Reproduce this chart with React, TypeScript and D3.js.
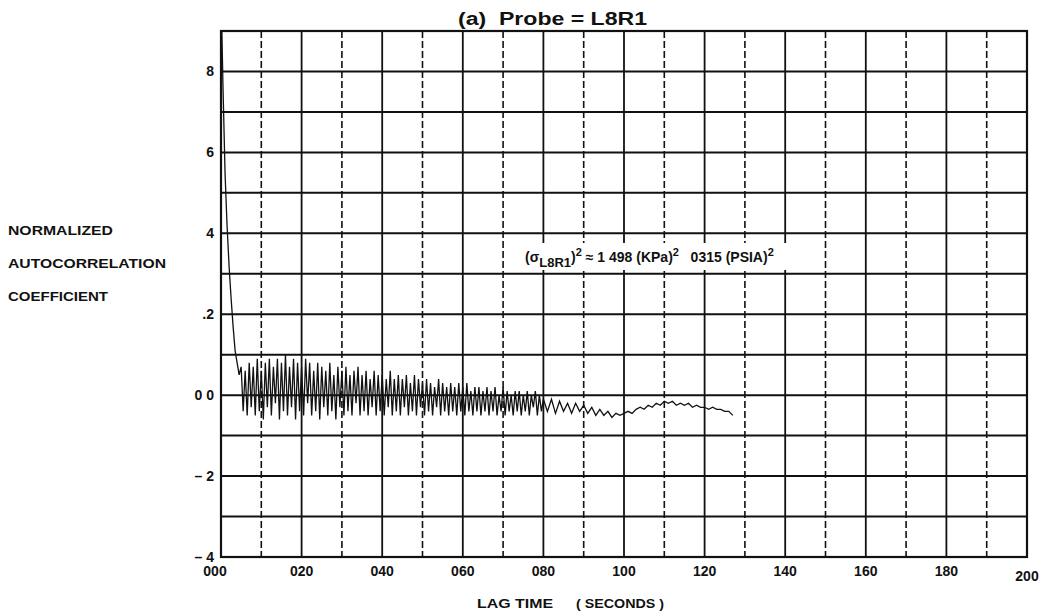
import React, { useEffect, useRef } from "react";
import * as d3 from "d3";

const W = 1044;
const H = 616;

// axis ticks as printed on the original plot
const xTickValues = [0, 20, 40, 60, 80, 100, 120, 140, 160, 180, 200];
const xTickLabels = ["000", "020", "040", "060", "080", "100", "120", "140", "160", "180", "200"];
const yTickValues = [0.8, 0.6, 0.4, 0.2, 0, -0.2, -0.4];
const yTickLabels = ["8", "6", "4", ".2", "0 0", "– 2", "– 4"];

// autocorrelation, lag 0 – 80 s sampled every 0.5 s
const stepA = 0.5;
const acfA = [
  1.0, 0.76, 0.55, 0.42, 0.32, 0.24, 0.17, 0.11, 0.08, 0.05,
  0.07, -0.04, 0.06, -0.05, 0.08, -0.03, 0.07, -0.05, 0.09, -0.04,
  0.06, -0.06, 0.08, -0.03, 0.09, -0.05, 0.07, -0.02, 0.09, -0.06,
  0.08, -0.04, 0.1, -0.05, 0.07, -0.03, 0.09, -0.06, 0.08, -0.04,
  0.07, -0.05, 0.09, -0.02, 0.08, -0.05, 0.06, -0.04, 0.08, -0.06,
  0.07, -0.03, 0.06, -0.05, 0.08, -0.04, 0.05, -0.06, 0.07, -0.03,
  0.06, -0.05, 0.07, -0.04, 0.05, -0.05, 0.06, -0.02, 0.07, -0.05,
  0.05, -0.04, 0.06, -0.05, 0.04, -0.03, 0.06, -0.05, 0.05, -0.04,
  0.05, -0.05, 0.04, -0.03, 0.06, -0.05, 0.04, -0.04, 0.05, -0.05,
  0.04, -0.03, 0.05, -0.05, 0.03, -0.04, 0.05, -0.05, 0.04, -0.03,
  0.03, -0.05, 0.04, -0.04, 0.03, -0.05, 0.02, -0.03, 0.04, -0.05,
  0.03, -0.04, 0.02, -0.05, 0.03, -0.04, 0.02, -0.05, 0.03, -0.04,
  0.02, -0.05, 0.03, -0.04, 0.01, -0.05, 0.02, -0.04, 0.02, -0.05,
  0.01, -0.04, 0.02, -0.05, 0.01, -0.04, 0.02, -0.05, 0.0, -0.04,
  0.02, -0.05, 0.01, -0.04, 0.0, -0.05, 0.01, -0.04, 0.01, -0.05,
  0.0, -0.04, 0.01, -0.05, 0.0, -0.03, 0.01, -0.05, 0.0, -0.04, -0.01,
];

// autocorrelation, lag 81 – 127 s sampled every 1 s
const startB = 81;
const acfB = [
  -0.04, -0.01, -0.045, -0.015, -0.04, -0.02, -0.045, -0.02, -0.04, -0.025,
  -0.045, -0.03, -0.05, -0.035, -0.05, -0.04, -0.055, -0.045, -0.05, -0.045,
  -0.04, -0.045, -0.035, -0.03, -0.035, -0.025, -0.03, -0.02, -0.025, -0.015,
  -0.02, -0.015, -0.025, -0.02, -0.025, -0.02, -0.03, -0.025, -0.03, -0.03,
  -0.035, -0.03, -0.035, -0.035, -0.04, -0.04, -0.05,
];

const yTitle = ["NORMALIZED", "AUTOCORRELATION", "COEFFICIENT"];
const yTitleWidths = [105, 158, 100];

const FONT = "'Liberation Sans', Arial, Helvetica, sans-serif";

const App: React.FC = () => {
  const svgRef = useRef<SVGSVGElement>(null);

  useEffect(() => {
    if (!svgRef.current) return;
    const svg = d3.select(svgRef.current);
    svg.selectAll("*").remove();

    const margin = { top: 31, right: 17, bottom: 59, left: 221 };
    const x = d3.scaleLinear().domain([0, 200]).range([margin.left, W - margin.right]);
    const y = d3.scaleLinear().domain([-0.4, 0.9]).range([H - margin.bottom, margin.top]);

    svg.append("rect").attr("width", W).attr("height", H).attr("fill", "#ffffff");

    // grid
    const grid = svg.append("g");
    grid
      .selectAll("line.h")
      .data(d3.range(-3, 9).map((k) => k / 10))
      .enter()
      .append("line")
      .attr("x1", x(0))
      .attr("x2", x(200))
      .attr("y1", (d) => y(d))
      .attr("y2", (d) => y(d))
      .attr("stroke", "#111")
      .attr("stroke-width", 2);

    grid
      .selectAll("line.v")
      .data(d3.range(1, 20))
      .enter()
      .append("line")
      .attr("x1", (k) => x(k * 10))
      .attr("x2", (k) => x(k * 10))
      .attr("y1", y(0.9))
      .attr("y2", y(-0.4))
      .attr("stroke", "#111")
      .attr("stroke-width", (k) => (k % 2 ? 1.6 : 1.8))
      .attr("stroke-dasharray", (k) => (k % 2 ? "7,3" : null));

    // frame
    svg
      .append("rect")
      .attr("x", x(0))
      .attr("y", y(0.9))
      .attr("width", x(200) - x(0))
      .attr("height", y(-0.4) - y(0.9))
      .attr("fill", "none")
      .attr("stroke", "#111")
      .attr("stroke-width", 2.2);

    // curve
    svg
      .append("clipPath")
      .attr("id", "plot-clip")
      .append("rect")
      .attr("x", x(0))
      .attr("y", y(0.9))
      .attr("width", x(200) - x(0))
      .attr("height", y(-0.4) - y(0.9));

    const points: [number, number][] = [
      ...acfA.map((v, i) => [i * stepA, v] as [number, number]),
      ...acfB.map((v, i) => [startB + i, v] as [number, number]),
    ];
    const line = d3
      .line<[number, number]>()
      .x((d) => x(d[0]))
      .y((d) => y(d[1]));
    svg
      .append("path")
      .attr("clip-path", "url(#plot-clip)")
      .attr("d", line(points))
      .attr("fill", "none")
      .attr("stroke", "#111")
      .attr("stroke-width", 1.3);

    // x tick labels
    svg
      .append("g")
      .selectAll("text")
      .data(xTickValues)
      .enter()
      .append("text")
      .attr("x", (d) => x(d) - (d === 0 ? 6 : 0))
      .attr("y", (d) => (d === 200 ? 581 : 576))
      .attr("text-anchor", "middle")
      .attr("font-family", FONT)
      .attr("font-weight", "bold")
      .attr("font-size", 14)
      .attr("fill", "#111")
      .text((d, i) => xTickLabels[i]);

    // y tick labels
    svg
      .append("g")
      .selectAll("text")
      .data(yTickValues)
      .enter()
      .append("text")
      .attr("x", 214)
      .attr("y", (d) => y(d))
      .attr("dy", "0.35em")
      .attr("text-anchor", "end")
      .attr("font-family", FONT)
      .attr("font-weight", "bold")
      .attr("font-size", 14)
      .attr("fill", "#111")
      .text((d, i) => yTickLabels[i]);

    // title
    svg
      .append("text")
      .attr("x", 458)
      .attr("y", 25)
      .attr("font-family", FONT)
      .attr("font-weight", "bold")
      .attr("font-size", 18)
      .attr("fill", "#111")
      .attr("textLength", 189)
      .attr("lengthAdjust", "spacingAndGlyphs")
      .style("white-space", "pre")
      .text("(a)  Probe = L8R1");

    // axis titles
    svg
      .append("g")
      .selectAll("text")
      .data(yTitle)
      .enter()
      .append("text")
      .attr("x", 8)
      .attr("y", (d, i) => 235 + i * 33)
      .attr("font-family", FONT)
      .attr("font-weight", "bold")
      .attr("font-size", 12.5)
      .attr("fill", "#111")
      .attr("textLength", (d, i) => yTitleWidths[i])
      .attr("lengthAdjust", "spacingAndGlyphs")
      .text((d) => d);

    svg
      .append("text")
      .attr("x", 477)
      .attr("y", 608)
      .attr("font-family", FONT)
      .attr("font-weight", "bold")
      .attr("font-size", 13)
      .attr("fill", "#111")
      .attr("textLength", 76)
      .attr("lengthAdjust", "spacingAndGlyphs")
      .text("LAG TIME");
    svg
      .append("text")
      .attr("x", 576)
      .attr("y", 608)
      .attr("font-family", FONT)
      .attr("font-weight", "bold")
      .attr("font-size", 13)
      .attr("fill", "#111")
      .attr("textLength", 88)
      .attr("lengthAdjust", "spacingAndGlyphs")
      .text("( SECONDS )");

    // variance annotation, on a white patch that hides the grid behind it
    svg
      .append("rect")
      .attr("x", 518)
      .attr("y", 243)
      .attr("width", 272)
      .attr("height", 27)
      .attr("fill", "#ffffff");
    const ann = svg
      .append("text")
      .attr("x", 525)
      .attr("y", 262)
      .attr("font-family", FONT)
      .attr("font-weight", "bold")
      .attr("font-size", 14)
      .attr("fill", "#111")
      .style("white-space", "pre");
    ann.append("tspan").text("(σ");
    ann.append("tspan").attr("dy", 5).attr("font-size", 13).text("L8R1");
    ann.append("tspan").attr("dy", -5).text(")");
    ann.append("tspan").attr("dy", -6).attr("font-size", 11).text("2");
    ann.append("tspan").attr("dy", 6).text(" ≈ 1 498 (KPa)");
    ann.append("tspan").attr("dy", -6).attr("font-size", 11).text("2");
    ann.append("tspan").attr("dy", 6).text("   0315 (PSIA)");
    ann.append("tspan").attr("dy", -6).attr("font-size", 11).text("2");
  }, []);

  return (
    <svg
      ref={svgRef}
      width={W}
      height={H}
      style={{ position: "absolute", left: 0, top: 0, display: "block" }}
    />
  );
};

export default App;
